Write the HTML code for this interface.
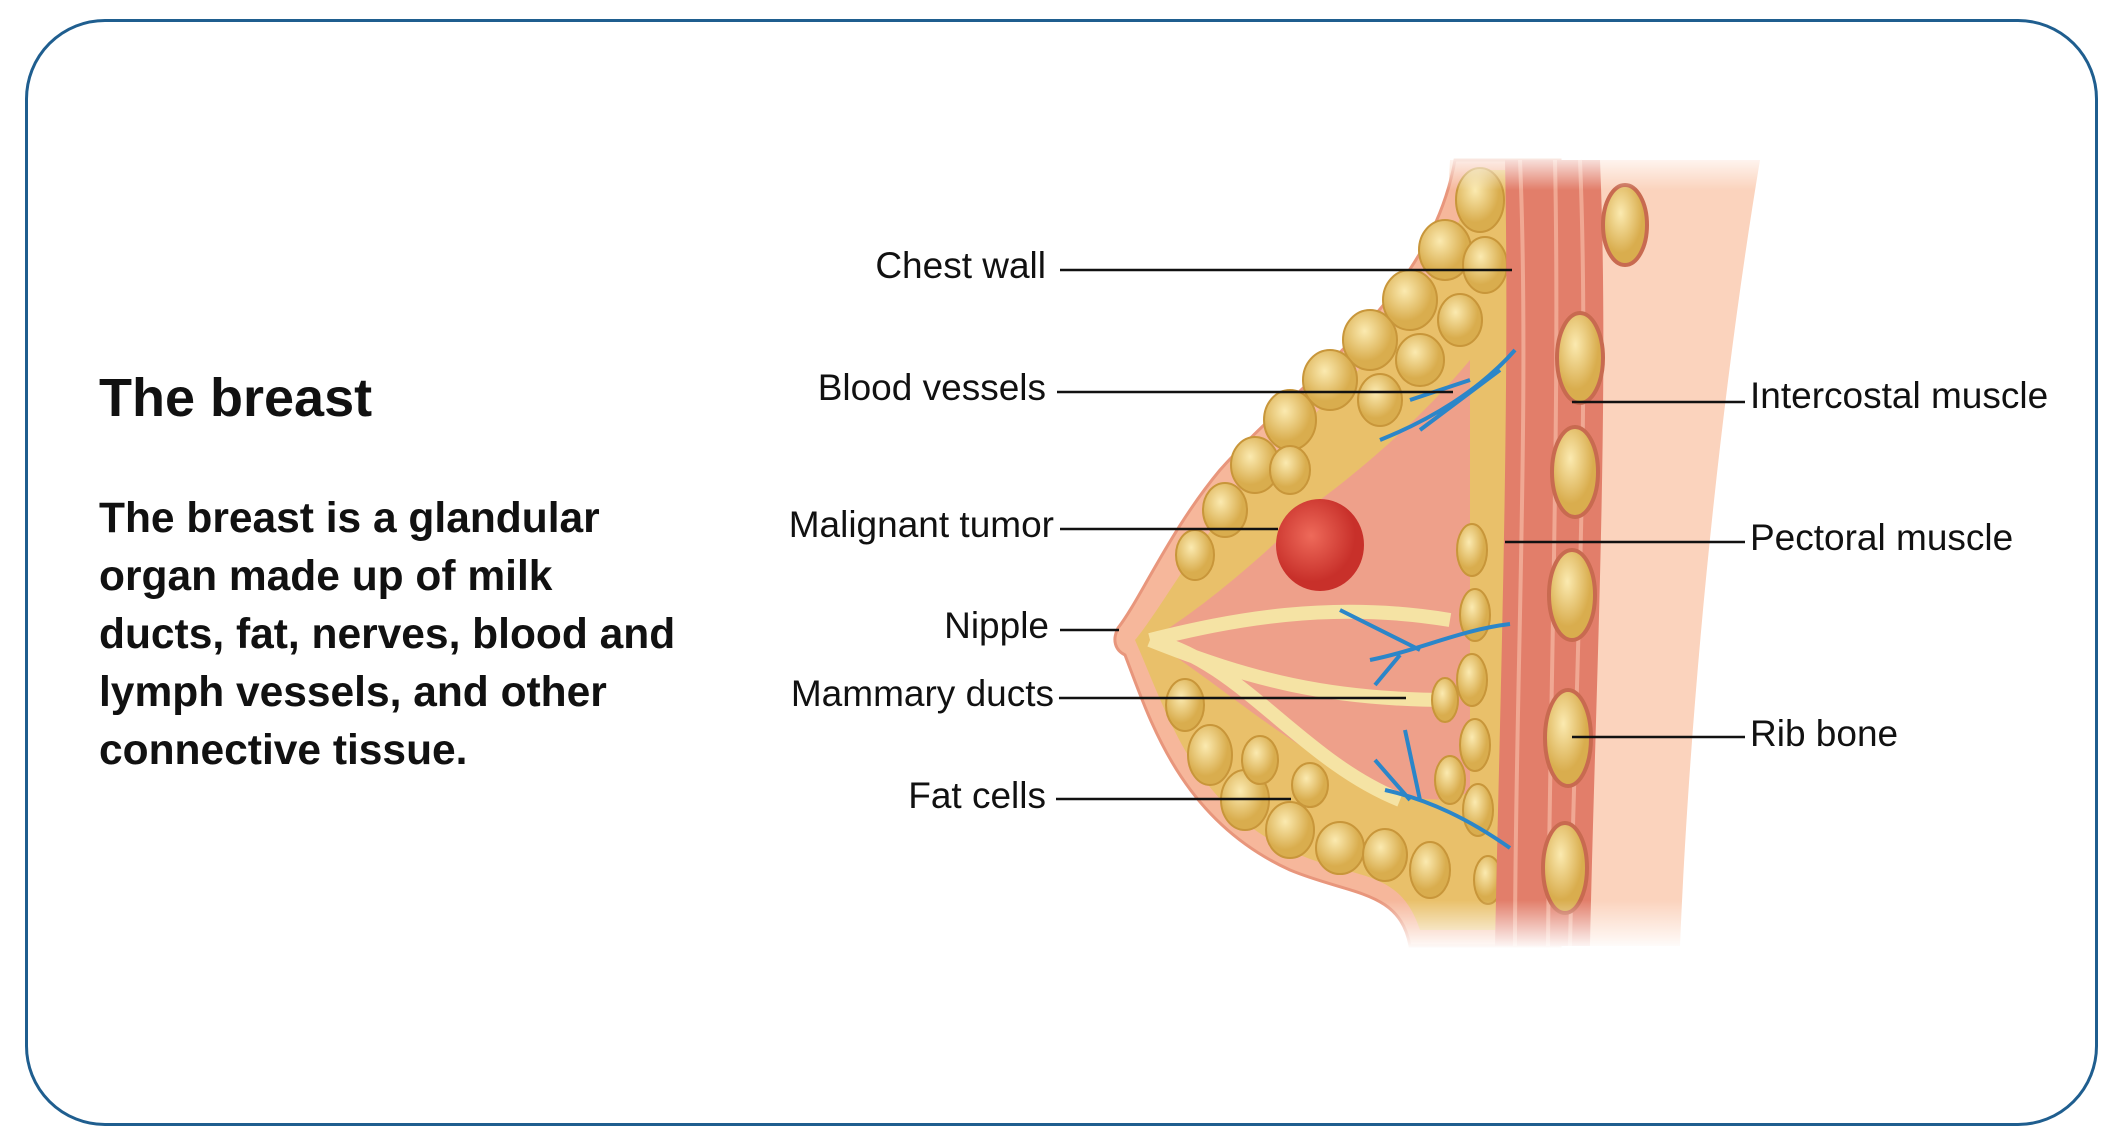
<!DOCTYPE html>
<html><head><meta charset="utf-8"><style>
html,body{margin:0;padding:0;background:#fff;}
body{width:2120px;height:1145px;position:relative;overflow:hidden;font-family:"Liberation Sans",Arial,sans-serif;}
.frame{position:absolute;left:25px;top:19px;width:2067px;height:1101px;border:3px solid #1f5e8f;border-radius:80px;}
.title{position:absolute;left:99px;top:367px;font-size:54px;font-weight:bold;color:#111;}
.body{position:absolute;left:99px;top:490px;font-size:42.5px;font-weight:bold;line-height:58px;color:#111;width:760px;}
.lab{position:absolute;font-size:37px;color:#111;white-space:nowrap;line-height:40px;}
.r{text-align:right;width:400px;}
</style></head><body>
<div class="frame"></div>
<div class="title">The breast</div>
<div class="body">The breast is a glandular<br>organ made up of milk<br>ducts, fat, nerves, blood and<br>lymph vessels, and other<br>connective tissue.</div>
<svg width="2120" height="1145" style="position:absolute;left:0;top:0">
<defs>
<linearGradient id="fade" x1="0" y1="0" x2="0" y2="1"><stop offset="0" stop-color="#fff" stop-opacity="1"/><stop offset="1" stop-color="#fff" stop-opacity="0"/></linearGradient>
<radialGradient id="tum" cx="0.4" cy="0.4"><stop offset="0" stop-color="#ee6a5a"/><stop offset="1" stop-color="#c8302a"/></radialGradient>
<radialGradient id="fat" cx="0.4" cy="0.35"><stop offset="0" stop-color="#fbeab0"/><stop offset="1" stop-color="#d9ad4e"/></radialGradient>
</defs>
<path d="M1450,160 L1760,160 C1720,400 1690,700 1680,946 L1410,946 Z" fill="#fbd3bd"/>
<path d="M1455,160 C1430,300 1300,380 1220,470 C1170,530 1140,600 1118,628 C1112,640 1115,650 1125,655 C1150,720 1180,820 1290,870 C1350,895 1400,890 1410,946 L1560,946 L1560,160 Z" fill="#f6b79b" stroke="#e8967c" stroke-width="3"/>
<path d="M1475,170 C1440,320 1320,400 1250,480 C1195,545 1160,610 1135,640 C1170,720 1195,810 1300,855 C1360,880 1400,870 1420,930 L1520,930 L1520,170 Z" fill="#e9c06a"/>
<path d="M1470,360 C1420,420 1360,470 1320,500 C1260,560 1200,610 1150,640 C1230,690 1300,760 1390,790 C1430,805 1460,800 1470,790 L1470,360 Z" fill="#eea08a"/>
<path d="M1150,640 C1230,620 1330,600 1450,620 M1150,640 C1250,680 1330,700 1450,700 M1150,640 C1240,660 1300,760 1400,800" stroke="#f5e3a4" stroke-width="14" fill="none"/>
<g fill="url(#fat)" stroke="#c8963a" stroke-width="2">
<ellipse cx="1480" cy="200" rx="24" ry="32"/><ellipse cx="1445" cy="250" rx="26" ry="30"/><ellipse cx="1485" cy="265" rx="22" ry="28"/>
<ellipse cx="1410" cy="300" rx="27" ry="30"/><ellipse cx="1460" cy="320" rx="22" ry="26"/><ellipse cx="1370" cy="340" rx="27" ry="30"/>
<ellipse cx="1420" cy="360" rx="24" ry="26"/><ellipse cx="1330" cy="380" rx="27" ry="30"/><ellipse cx="1380" cy="400" rx="22" ry="26"/>
<ellipse cx="1290" cy="420" rx="26" ry="30"/><ellipse cx="1255" cy="465" rx="24" ry="28"/><ellipse cx="1225" cy="510" rx="22" ry="27"/>
<ellipse cx="1195" cy="555" rx="19" ry="25"/><ellipse cx="1290" cy="470" rx="20" ry="24"/>
<ellipse cx="1185" cy="705" rx="19" ry="26"/><ellipse cx="1210" cy="755" rx="22" ry="30"/><ellipse cx="1245" cy="800" rx="24" ry="30"/>
<ellipse cx="1290" cy="830" rx="24" ry="28"/><ellipse cx="1340" cy="848" rx="24" ry="26"/><ellipse cx="1385" cy="855" rx="22" ry="26"/>
<ellipse cx="1430" cy="870" rx="20" ry="28"/><ellipse cx="1260" cy="760" rx="18" ry="24"/><ellipse cx="1310" cy="785" rx="18" ry="22"/>
<ellipse cx="1472" cy="550" rx="15" ry="26"/><ellipse cx="1475" cy="615" rx="15" ry="26"/><ellipse cx="1472" cy="680" rx="15" ry="26"/>
<ellipse cx="1475" cy="745" rx="15" ry="26"/><ellipse cx="1478" cy="810" rx="15" ry="26"/><ellipse cx="1488" cy="880" rx="14" ry="24"/>
<ellipse cx="1450" cy="780" rx="15" ry="24"/><ellipse cx="1445" cy="700" rx="13" ry="22"/>
</g>
<path d="M1505,160 L1600,160 C1610,400 1595,700 1590,946 L1495,946 C1500,700 1510,400 1505,160 Z" fill="#e27e6a"/>
<path d="M1520,160 C1530,400 1515,700 1515,946 M1555,160 C1560,400 1550,700 1548,946 M1580,160 C1590,400 1575,700 1570,946" stroke="#f0a893" stroke-width="4" fill="none"/>
<g fill="url(#fat)" stroke="#c86a50" stroke-width="4">
<ellipse cx="1625" cy="225" rx="22" ry="40"/><ellipse cx="1580" cy="358" rx="23" ry="45"/><ellipse cx="1575" cy="472" rx="23" ry="45"/>
<ellipse cx="1572" cy="595" rx="23" ry="45"/><ellipse cx="1568" cy="738" rx="23" ry="48"/><ellipse cx="1565" cy="868" rx="22" ry="45"/>
</g>
<ellipse cx="1320" cy="545" rx="44" ry="46" fill="url(#tum)"/>
<g stroke="#2b86c9" stroke-width="4" fill="none">
<path d="M1515,350 C1480,390 1430,420 1380,440 M1500,370 L1420,430 M1470,380 L1410,400"/>
<path d="M1510,624 C1460,630 1420,650 1370,660 M1420,650 L1340,610 M1400,655 L1375,685"/>
<path d="M1510,848 C1470,820 1430,800 1385,790 M1420,800 L1405,730 M1410,800 L1375,760"/>
</g>
<rect x="1100" y="150" width="700" height="40" fill="url(#fade)"/>
<rect x="1100" y="900" width="700" height="50" fill="url(#fade)" transform="rotate(180 1450 925)"/>
<g stroke="#111" stroke-width="2.5">
<line x1="1060" y1="270" x2="1512" y2="270"/><line x1="1057" y1="392" x2="1453" y2="392"/>
<line x1="1060" y1="529" x2="1278" y2="529"/><line x1="1060" y1="630" x2="1119" y2="630"/>
<line x1="1059" y1="698" x2="1406" y2="698"/><line x1="1056" y1="799" x2="1291" y2="799"/>
<line x1="1572" y1="402" x2="1745" y2="402"/><line x1="1505" y1="542" x2="1745" y2="542"/>
<line x1="1572" y1="737" x2="1745" y2="737"/>
</g>
</svg>
<div class="lab r" style="left:646px;top:246px">Chest wall</div>
<div class="lab r" style="left:646px;top:368px">Blood vessels</div>
<div class="lab r" style="left:654px;top:505px">Malignant tumor</div>
<div class="lab r" style="left:649px;top:606px">Nipple</div>
<div class="lab r" style="left:654px;top:674px">Mammary ducts</div>
<div class="lab r" style="left:646px;top:776px">Fat cells</div>
<div class="lab" style="left:1750px;top:376px">Intercostal muscle</div>
<div class="lab" style="left:1750px;top:518px">Pectoral muscle</div>
<div class="lab" style="left:1750px;top:714px">Rib bone</div>
</body></html>
